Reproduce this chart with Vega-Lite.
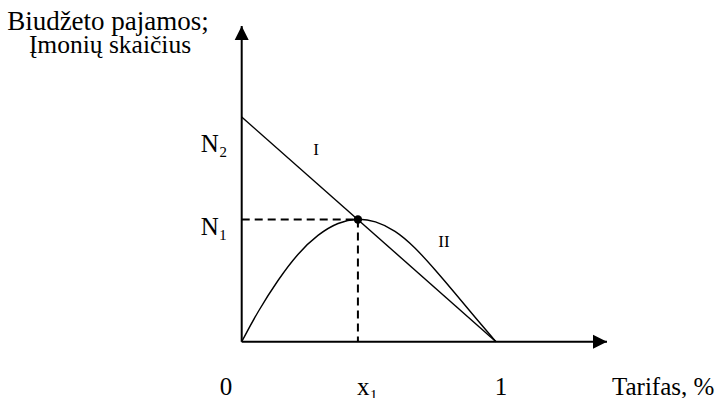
{
  "$schema": "https://vega.github.io/schema/vega-lite/v6.json",
  "width": 717,
  "height": 398,
  "padding": 0,
  "autosize": {"type": "none"},
  "background": "white",
  "config": {"view": {"stroke": null}},
  "datasets": {
    "axesLines": [
      {"x": 0, "y": 0, "x2": 0, "y2": 140.5},
      {"x": 0, "y": 0, "x2": 1.4365, "y2": 0}
    ],
    "lineI": [{"x": 0, "y": 100}, {"x": 1, "y": 0}],
    "curveII": [
      {"x": 0, "y": 0}, {"x": 0.064, "y": 13.6}, {"x": 0.143, "y": 27.6},
      {"x": 0.221, "y": 39.4}, {"x": 0.3, "y": 47.8}, {"x": 0.379, "y": 53.2},
      {"x": 0.457, "y": 55.0}, {"x": 0.524, "y": 53.8}, {"x": 0.603, "y": 49.7},
      {"x": 0.681, "y": 42.1}, {"x": 0.76, "y": 32.1}, {"x": 0.839, "y": 21.6},
      {"x": 0.917, "y": 10.9}, {"x": 1, "y": 0}
    ],
    "dashed": [
      {"x": 0, "y": 54.4, "x2": 0.457, "y2": 54.4},
      {"x": 0.457, "y": 54.4, "x2": 0.457, "y2": 0}
    ],
    "dot": [{"x": 0.457, "y": 54.4}],
    "arrowUp": [{"x": 0, "y": 140.5}],
    "arrowRight": [{"x": 1.4365, "y": 0}],
    "title1": [{"x": -0.5258, "y": 138.7, "t": "Biudžeto pajamos;"}],
    "title2": [{"x": -0.518, "y": 128.5, "t": "Įmonių skaičius"}],
    "labelsCenter": [
      {"x": -0.0617, "y": -23.7, "t": "0"},
      {"x": 1.0197, "y": -23.7, "t": "1"}
    ],
    "labelsLeft": [
      {"x": -0.161, "y": 84.4, "t": "N₂"},
      {"x": -0.161, "y": 47.5, "t": "N₁"},
      {"x": 0.4534, "y": -23.7, "t": "x₁"},
      {"x": 1.456, "y": -23.7, "t": "Tarifas, %"}
    ],
    "labelsSmall": [
      {"x": 0.292, "y": 83.1, "t": "I"},
      {"x": 0.7955, "y": 42.1, "t": "II"}
    ]
  },
  "encoding": {
    "x": {"field": "x", "type": "quantitative", "scale": {"domain": [-0.95045, 1.86905], "nice": false, "zero": false}, "axis": null},
    "y": {"field": "y", "type": "quantitative", "scale": {"domain": [-25.056, 152.07], "nice": false, "zero": false}, "axis": null}
  },
  "layer": [
    {
      "data": {"name": "axesLines"},
      "mark": {"type": "rule", "color": "black", "strokeWidth": 2},
      "encoding": {"x2": {"field": "x2"}, "y2": {"field": "y2"}}
    },
    {
      "data": {"name": "lineI"},
      "mark": {"type": "line", "color": "black", "strokeWidth": 1.4},
      "encoding": {"order": {"field": "x", "type": "quantitative"}}
    },
    {
      "data": {"name": "curveII"},
      "mark": {"type": "line", "color": "black", "strokeWidth": 1.4, "interpolate": "basis"},
      "encoding": {"order": {"field": "x", "type": "quantitative"}}
    },
    {
      "data": {"name": "dashed"},
      "mark": {"type": "rule", "color": "black", "strokeWidth": 2, "strokeDash": [8, 5]},
      "encoding": {"x2": {"field": "x2"}, "y2": {"field": "y2"}}
    },
    {
      "data": {"name": "dot"},
      "mark": {"type": "point", "filled": true, "color": "black", "size": 70, "opacity": 1}
    },
    {
      "data": {"name": "arrowUp"},
      "mark": {"type": "point", "filled": true, "color": "black", "opacity": 1, "shape": "M0,0L1,2L-1,2Z", "size": 196}
    },
    {
      "data": {"name": "arrowRight"},
      "mark": {"type": "point", "filled": true, "color": "black", "opacity": 1, "shape": "M0,0L-2,-1L-2,1Z", "size": 196}
    },
    {
      "data": {"name": "title1"},
      "mark": {"type": "text", "font": "Liberation Serif", "fontSize": 27, "align": "center", "baseline": "alphabetic", "color": "black"},
      "encoding": {"text": {"field": "t"}}
    },
    {
      "data": {"name": "title2"},
      "mark": {"type": "text", "font": "Liberation Serif", "fontSize": 25.5, "align": "center", "baseline": "alphabetic", "color": "black"},
      "encoding": {"text": {"field": "t"}}
    },
    {
      "data": {"name": "labelsCenter"},
      "mark": {"type": "text", "font": "Liberation Serif", "fontSize": 25, "align": "center", "baseline": "alphabetic", "color": "black"},
      "encoding": {"text": {"field": "t"}}
    },
    {
      "data": {"name": "labelsLeft"},
      "mark": {"type": "text", "font": "Liberation Serif", "fontSize": 25, "align": "left", "baseline": "alphabetic", "color": "black"},
      "encoding": {"text": {"field": "t"}}
    },
    {
      "data": {"name": "labelsSmall"},
      "mark": {"type": "text", "font": "Liberation Serif", "fontSize": 17, "align": "center", "baseline": "alphabetic", "color": "black"},
      "encoding": {"text": {"field": "t"}}
    }
  ]
}
